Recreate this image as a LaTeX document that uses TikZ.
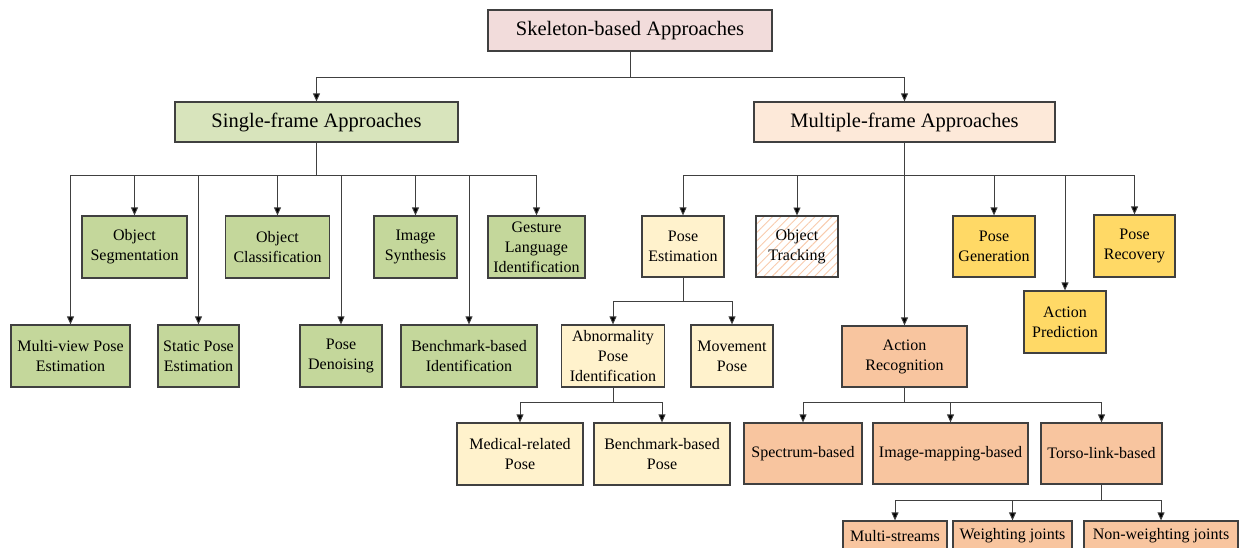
\documentclass[tikz,border=0pt]{standalone}
\usepackage{fontspec}
\setmainfont{Liberation Serif}
\usetikzlibrary{positioning, arrows.meta, patterns.meta}
\definecolor{rootfill}{HTML}{F2DCDB}
\definecolor{singlefill}{HTML}{D8E4BC}
\definecolor{singleleaf}{HTML}{C4D79B}
\definecolor{multifill}{HTML}{FDE9D9}
\definecolor{posefill}{HTML}{FFF2CC}
\definecolor{goldfill}{HTML}{FFD966}
\definecolor{actfill}{HTML}{F8C59F}
\definecolor{hatch}{HTML}{F8CBAD}
\definecolor{edge}{HTML}{404040}
\tikzset{
  catbox/.style={draw=edge, line width=1.2pt, align=center, inner sep=0pt,
    font=\fontsize{16}{20}\selectfont},
  headbox/.style={catbox, minimum height=40pt, font=\fontsize{20.5}{24}\selectfont},
  sz/.style 2 args={minimum width=#1pt, minimum height=#2pt},
  conn/.style={draw=edge, line width=0.9pt, -{Triangle[length=8pt,width=7pt,fill=black]}},
}
\begin{document}
\begin{tikzpicture}[x=1pt, y=-1pt]
\useasboundingbox (0,0) rectangle (1239,548);
\clip (0,0) rectangle (1239,548);

\node[headbox, sz={284}{41}, fill=rootfill] (root) at (630,30.5) {Skeleton-based Approaches};
\node[headbox, sz={283}{40}, fill=singlefill] (single) at (316.5,122) {Single-frame Approaches};
\node[headbox, sz={301}{40}, fill=multifill] (multi) at (904.5,122) {Multiple-frame Approaches};

\node[catbox, sz={105}{62}, fill=singleleaf] (oseg) at (134.5,247) {Object\\Segmentation};
\node[catbox, sz={104}{62}, fill=singleleaf] (ocls) at (277.5,247) {Object\\Classification};
\node[catbox, sz={83}{62}, fill=singleleaf] (isyn) at (415.5,247) {Image\\Synthesis};
\node[catbox, sz={97}{62}, fill=singleleaf] (glid) at (536.5,247) {Gesture\\Language\\Identification};
\node[catbox, sz={119}{62}, fill=singleleaf] (mvpe) at (70.5,356) {Multi-view Pose\\Estimation};
\node[catbox, sz={81}{62}, fill=singleleaf] (spe) at (198.5,356) {Static Pose\\Estimation};
\node[catbox, sz={82}{62}, fill=singleleaf] (pden) at (341,356) {Pose\\Denoising};
\node[catbox, sz={136}{62}, fill=singleleaf] (bid) at (469,356) {Benchmark-based\\Identification};

\node[catbox, sz={82}{61}, fill=posefill] (pest) at (683,246.5) {Pose\\Estimation};
\node[catbox, sz={82}{61}, pattern={Lines[angle=45,distance=6pt,line width=0.9pt]}, pattern color=hatch] (otrk) at (797,246.5) {Object\\Tracking};
\node[catbox, sz={82}{61}, fill=goldfill] (pgen) at (994,246.5) {Pose\\Generation};
\node[catbox, sz={81}{62}, fill=goldfill] (prec) at (1134.5,246) {Pose\\Recovery};
\node[catbox, sz={82}{62}, fill=goldfill] (apred) at (1065,322) {Action\\Prediction};
\node[catbox, sz={125}{61}, fill=actfill] (arec) at (904.5,356.5) {Action\\Recognition};

\node[catbox, sz={103}{62}, fill=posefill] (abn) at (613,356) {Abnormality\\Pose\\Identification};
\node[catbox, sz={82}{62}, fill=posefill] (mvp) at (732,356) {Movement\\Pose};
\node[catbox, sz={126}{62}, fill=posefill] (med) at (520,454) {Medical-related\\Pose};
\node[catbox, sz={136}{62}, fill=posefill] (bpose) at (662,454) {Benchmark-based\\Pose};

\node[catbox, sz={118}{61}, fill=actfill] (spec) at (803,453.5) {Spectrum-based};
\node[catbox, sz={155}{61}, fill=actfill] (imap) at (950.5,453.5) {Image-mapping-based};
\node[catbox, sz={121}{61}, fill=actfill] (torso) at (1101.5,453.5) {Torso-link-based};
\node[catbox, sz={104}{30}, fill=actfill] (mstr) at (895,536) {Multi-streams};
\node[catbox, sz={119}{30}, fill=actfill] (wj) at (1012.5,536) {Weighting joints};
\node[catbox, sz={154}{30}, fill=actfill] (nwj) at (1161,536) {Non-weighting joints};

\foreach \t in {single,multi}
  \draw[conn] (root.south) -- ++(0,25.5) -| (\t.north);
\foreach \t in {oseg,ocls,isyn,glid,mvpe,spe,pden,bid}
  \draw[conn] (single.south) -- ++(0,33) -| (\t.north);
\foreach \t in {pest,otrk,pgen,prec,apred,arec}
  \draw[conn] (multi.south) -- ++(0,33) -| (\t.north);
\foreach \t in {abn,mvp}
  \draw[conn] (pest.south) -- ++(0,24) -| (\t.north);
\foreach \t in {med,bpose}
  \draw[conn] (abn.south) -- ++(0,15) -| (\t.north);
\foreach \t in {spec,imap,torso}
  \draw[conn] (arec.south) -- ++(0,15) -| (\t.north);
\foreach \t in {mstr,wj,nwj}
  \draw[conn] (torso.south) -- ++(0,16) -| (\t.north);
\end{tikzpicture}
\end{document}
